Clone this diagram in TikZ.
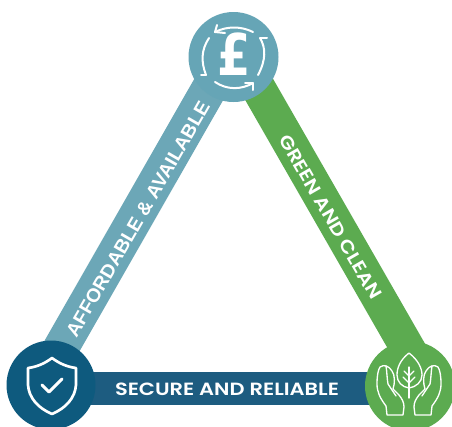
\documentclass[tikz,border=0pt]{standalone}
\usepackage{fontspec}
\setmainfont{Poppins SemiBold}
\newfontfamily\armfont{Liberation Sans}
\newfontfamily\poundfont{DejaVu Sans}
\definecolor{teal}{HTML}{66A5B6}
\definecolor{tealbar}{HTML}{6CA7B7}
\definecolor{navy}{HTML}{0E5A7E}
\definecolor{navybar}{HTML}{1D5C80}
\definecolor{leaf}{HTML}{5CAB50}
\tikzset{
  hub/.style={circle,minimum size=#1,inner sep=0pt},
  bar/.style={line width=#1},
  label/.style={text=white,inner sep=0pt},
  glyph/.style={draw=white,line width=1.5pt,line cap=round,line join=round,fill=none},
  thin glyph/.style={draw=white,line width=1pt,line cap=round,line join=round,fill=none},
}
\begin{document}
\begin{tikzpicture}[x=0.75pt,y=-0.75pt]
\useasboundingbox (0,0) rectangle (452,426);
\fill[white] (0,0) rectangle (452,426);
% hubs
\node[hub=67.5pt] (top) at (233.5,57) {};
\node[hub=67pt] (left) at (51,385) {};
\node[hub=67.5pt] (right) at (410,386) {};
% free ends of the bars (the bars do not aim exactly at the hub centres)
\coordinate (lt) at (227.3,57);
\coordinate (lb) at (39.7,385);
\coordinate (rt) at (240.5,57);
\coordinate (rb) at (429.3,386);
\coordinate (bl) at (51,388.5);
\coordinate (br) at (410,388.5);
% bars
\draw[bar=26.7pt,tealbar] (lt) -- (lb);
\draw[bar=26pt,leaf] (rt) -- (rb);
\draw[bar=24.75pt,navybar] (bl) -- (br);
% hub discs
\fill[teal] (top) circle (45);
\fill[navy] (left) circle (44.5);
\fill[leaf] (right) circle (45);
% labels
\node[label,rotate=-60] (green) at (330.5,217) {\resizebox{140pt}{9.6pt}{GREEN AND CLEAN}};
\node[label,rotate=60] (afford) at (138,219) {\resizebox{201pt}{10pt}{\armfont\bfseries AFFORDABLE \& AVAILABLE}};
\node[label] (secure) at (227,389) {\resizebox{168pt}{9.4pt}{SECURE AND RELIABLE}};
% pound icon
\node[text=white,inner sep=0pt] (pound) at (234,54.5) {\resizebox{25pt}{32pt}{\poundfont\bfseries £}};
\draw[glyph] (215,32) .. controls (227,26) and (241,26) .. (253,32);
\draw[glyph] (217,25) -- (215,32) -- (225,33);
\draw[glyph] (260,38) .. controls (266,48) and (266,60) .. (258,75);
\draw[glyph] (260,38) -- (267,38);
\draw[glyph] (215,82) .. controls (227,90) and (241,90) .. (253,83);
\draw[glyph] (253,90) -- (253,83) -- (245,83);
\draw[glyph] (209,38) .. controls (201,50) and (201,62) .. (206,75);
\draw[glyph] (206,75) -- (201,75);
% shield icon
\draw[line width=2pt,draw=white,line join=round] (52,358) .. controls (44,364) and (36,367) .. (28,368)
  -- (28,385) .. controls (29,398) and (38,408) .. (52,414)
  .. controls (66,408) and (75,398) .. (76,385) -- (76,368)
  .. controls (68,367) and (60,364) .. (52,358) -- cycle;
\draw[line width=2.2pt,draw=white,line cap=round,line join=round] (42,385) -- (49,392) -- (62,379);
% plant and hands icon
\draw[thin glyph] (409,353) .. controls (400,360) and (397,368) .. (397,375)
  .. controls (397,382) and (402,387) .. (409,388)
  .. controls (416,387) and (422,382) .. (422,375)
  .. controls (422,368) and (418,360) .. (409,353) -- cycle;
\draw[thin glyph] (409,367) -- (409,398);
\draw[thin glyph] (404,371) -- (409,376) -- (414,371);
\draw[thin glyph] (403,377) -- (409,383) -- (415,377);
% left hand
\draw[thin glyph] (387,415) -- (386,406) .. controls (380,398) and (377,392) .. (377,384)
  .. controls (377,376) and (378,370) .. (380,367)
  .. controls (384,364) and (389,366) .. (392,371)
  .. controls (395,375) and (395,383) .. (393,389)
  -- (399,395) .. controls (402,399) and (404,402) .. (404,407) -- (403,415) -- cycle;
\draw[thin glyph] (386,366) .. controls (387,372) and (387,379) .. (388,384) -- (396,396);
% right hand
\draw[thin glyph] (431,415) -- (432,406) .. controls (438,398) and (441,392) .. (441,384)
  .. controls (441,376) and (440,370) .. (438,367)
  .. controls (434,364) and (429,366) .. (426,371)
  .. controls (423,375) and (423,383) .. (425,389)
  -- (419,395) .. controls (416,399) and (414,402) .. (414,407) -- (415,415) -- cycle;
\draw[thin glyph] (432,366) .. controls (431,372) and (431,379) .. (430,384) -- (422,396);
\end{tikzpicture}
\end{document}
